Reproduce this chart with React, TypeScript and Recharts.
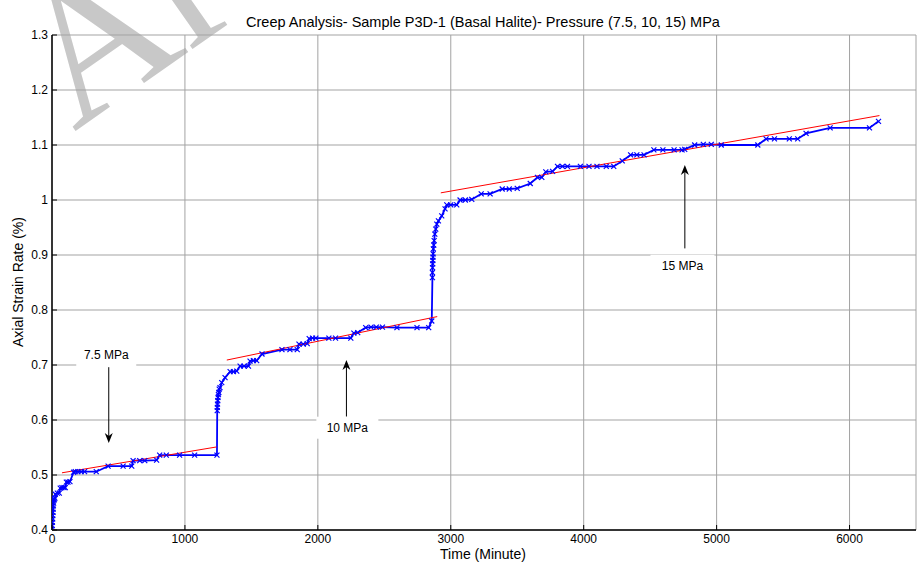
import React from 'react';
import {
  LineChart,
  Line,
  XAxis,
  YAxis,
  CartesianGrid,
  ReferenceLine,
  ReferenceDot,
} from 'recharts';

const timeMin = [
  0, 2, 3, 5, 6, 8, 9, 10, 12, 14, 18, 22,
  25, 40, 55, 62, 75, 90, 100, 108, 120, 135,
  163, 175, 195, 220, 245, 333, 422, 535, 600, 610, 660, 698, 787,
  810, 860, 960, 1073, 1241,
  1243, 1244, 1245, 1247, 1249, 1252, 1255, 1258, 1264, 1277, 1302,
  1340, 1365, 1390, 1415, 1445, 1478, 1490, 1515, 1540, 1580,
  1730, 1790, 1845, 1858, 1890, 1920, 1935, 1960, 1985, 2083, 2133, 2248,
  2271, 2300, 2360, 2400, 2440, 2486, 2595, 2746, 2834, 2857,
  2862, 2862, 2863, 2864, 2865, 2866, 2867, 2869, 2872, 2875, 2880, 2887, 2895,
  2907, 2932, 2957, 2970, 3000, 3045, 3070, 3110, 3158, 3229, 3296,
  3387, 3440, 3500, 3598, 3652, 3685, 3715, 3766, 3803, 3840, 3878,
  3975, 4040, 4100, 4170, 4226, 4290, 4353, 4400, 4454, 4528, 4596,
  4680, 4740, 4760, 4835, 4900, 4960, 5035, 5310, 5372, 5435, 5547,
  5610, 5673, 5854, 6150, 6218,
];
const strainPct = [
  0.401, 0.408, 0.414, 0.42, 0.426, 0.432, 0.438, 0.444, 0.449, 0.454, 0.456, 0.458,
  0.465, 0.467, 0.467, 0.476, 0.477, 0.477, 0.477, 0.487, 0.487, 0.488,
  0.505, 0.506, 0.506, 0.506, 0.506, 0.506, 0.516, 0.516, 0.516, 0.526, 0.526, 0.526, 0.527,
  0.536, 0.536, 0.536, 0.536, 0.536,
  0.617, 0.623, 0.629, 0.635, 0.641, 0.646, 0.65, 0.656, 0.659, 0.668, 0.677,
  0.688, 0.688, 0.689, 0.698, 0.698, 0.698, 0.707, 0.708, 0.708, 0.72,
  0.728, 0.728, 0.728, 0.738, 0.738, 0.739, 0.748, 0.749, 0.749, 0.749, 0.749, 0.749,
  0.758, 0.759, 0.768, 0.769, 0.769, 0.769, 0.768, 0.768, 0.768, 0.78,
  0.859, 0.868, 0.877, 0.884, 0.89, 0.896, 0.902, 0.911, 0.918, 0.926, 0.938, 0.947, 0.956,
  0.962, 0.971, 0.984, 0.991, 0.991, 0.991, 1.0, 1.0, 1.001, 1.011, 1.011,
  1.02, 1.02, 1.021, 1.03, 1.041, 1.041, 1.051, 1.052, 1.061, 1.061, 1.061,
  1.061, 1.061, 1.061, 1.061, 1.061, 1.071, 1.082, 1.082, 1.082, 1.091, 1.091,
  1.091, 1.091, 1.092, 1.1, 1.101, 1.101, 1.1, 1.1, 1.111, 1.111, 1.111,
  1.111, 1.121, 1.131, 1.131, 1.143,
];

// linear fits per pressure stage (start / end)
const fit75Time = [75, 1238];
const fit75Strain = [0.504, 0.551];
const fit10Time = [1315, 2898];
const fit10Strain = [0.709, 0.788];
const fit15Time = [2925, 6225];
const fit15Strain = [1.013, 1.1535];

const xTicks = [0, 1000, 2000, 3000, 4000, 5000, 6000];
const yTicks = [0.4, 0.5, 0.6, 0.7, 0.8, 0.9, 1.0, 1.1, 1.2, 1.3];

const stageLabels = ['7.5 MPa', '10 MPa', '15 MPa'];

const measured = timeMin.map((t, i) => ({ t, v: strainPct[i] }));
const fit75 = fit75Time.map((t, i) => ({ t, v: fit75Strain[i] }));
const fit10 = fit10Time.map((t, i) => ({ t, v: fit10Strain[i] }));
const fit15 = fit15Time.map((t, i) => ({ t, v: fit15Strain[i] }));

const FONT = '"Liberation Sans", Arial, Helvetica, sans-serif';

const XMark = (props: any) => {
  const { cx, cy } = props;
  if (cx == null || cy == null) return null;
  const s = 2.5;
  return (
    <path
      d={`M${cx - s},${cy - s}L${cx + s},${cy + s}M${cx - s},${cy + s}L${cx + s},${cy - s}`}
      stroke="#0000ff"
      strokeWidth={1.2}
      fill="none"
    />
  );
};

const BottomTick = (props: any) => {
  const { x, y, payload } = props;
  return (
    <g>
      <line x1={x} x2={x} y1={y - 4} y2={y - 9} stroke="#000" />
      <text x={x} y={y + 9} textAnchor="middle" fontSize={12} fontFamily={FONT} fill="#000">
        {payload.value}
      </text>
    </g>
  );
};

const LeftTick = (props: any) => {
  const { x, y, payload } = props;
  return (
    <g>
      <line x1={x + 4} x2={x + 9} y1={y} y2={y} stroke="#000" />
      <text x={x} y={y + 4} textAnchor="end" fontSize={12} fontFamily={FONT} fill="#000">
        {String(Math.round(payload.value * 10) / 10)}
      </text>
    </g>
  );
};

const TopTick = (props: any) => {
  const { x, y } = props;
  return <line x1={x} x2={x} y1={y} y2={y + 5} stroke="#000" />;
};

const RightTick = (props: any) => {
  const { x, y } = props;
  return <line x1={x} x2={x - 5} y1={y} y2={y} stroke="#000" />;
};

const Arrow = (p: any) => {
  const { x1, y1, x2, y2 } = p;
  const dx = x2 - x1;
  const dy = y2 - y1;
  const len = Math.sqrt(dx * dx + dy * dy) || 1;
  const ux = dx / len;
  const uy = dy / len;
  const hl = 10;
  const hw = 4;
  const bx = x2 - ux * hl;
  const by = y2 - uy * hl;
  const nx = x2 - ux * hl * 0.7;
  const ny = y2 - uy * hl * 0.7;
  return (
    <g>
      <line x1={x1} y1={y1} x2={nx} y2={ny} stroke="#000" strokeWidth={1} />
      <path
        d={`M${x2},${y2}L${bx - uy * hw},${by + ux * hw}L${nx},${ny}L${bx + uy * hw},${by - ux * hw}Z`}
        fill="#000"
      />
    </g>
  );
};

const boxLabel = (text: string, w: number) => (p: any) => (
  <g>
    <rect x={p.cx - w / 2} y={p.cy - 11} width={w} height={22} fill="#fff" />
    <text x={p.cx} y={p.cy + 4} textAnchor="middle" fontSize={12} fontFamily={FONT} fill="#000">
      {text}
    </text>
  </g>
);

export default function App() {
  return (
    <div style={{ position: 'absolute', left: 0, top: 0, width: 924, height: 563, background: '#fff', overflow: 'hidden' }}>
      <svg width={924} height={563} style={{ position: 'absolute', left: 0, top: 0 }}>
        <text
          transform="translate(74,132) rotate(-35)"
          fontSize={195}
          fontFamily='"Liberation Serif", "DejaVu Serif", serif'
          fill="#c8c8c8"
        >
          Archive of SID
        </text>
      </svg>
      <div style={{ position: 'absolute', left: 0, top: 0 }}>
        <LineChart width={924} height={563} margin={{ top: 35, right: 8, bottom: 0, left: 0 }}>
          <CartesianGrid stroke="#a3a3a3" />
          <XAxis
            dataKey="t"
            type="number"
            domain={[0, 6500]}
            ticks={xTicks}
            allowDataOverflow
            height={33}
            tickSize={0}
            tickMargin={4}
            tickLine={false}
            axisLine={{ stroke: '#000', strokeWidth: 1.5 }}
            tick={<BottomTick />}
          />
          <XAxis
            xAxisId="top"
            orientation="top"
            type="number"
            domain={[0, 6500]}
            ticks={xTicks}
            allowDataOverflow
            height={0}
            tickSize={0}
            tickMargin={0}
            tickLine={false}
            axisLine={{ stroke: '#000', strokeWidth: 1.5 }}
            tick={<TopTick />}
          />
          <YAxis
            type="number"
            domain={[0.4, 1.3]}
            ticks={yTicks}
            allowDataOverflow
            width={52}
            tickSize={0}
            tickMargin={4}
            tickLine={false}
            axisLine={{ stroke: '#000', strokeWidth: 1.5 }}
            tick={<LeftTick />}
          />
          <YAxis
            yAxisId="right"
            orientation="right"
            type="number"
            domain={[0.4, 1.3]}
            ticks={yTicks}
            allowDataOverflow
            width={0}
            tickSize={0}
            tickMargin={0}
            tickLine={false}
            axisLine={{ stroke: '#000', strokeWidth: 1.5 }}
            tick={<RightTick />}
          />
          <ReferenceDot x={408} y={0.718} r={0} shape={boxLabel(stageLabels[0], 60)} />
          <ReferenceDot x={2222} y={0.586} r={0} shape={boxLabel(stageLabels[1], 62)} />
          <ReferenceDot x={4743} y={0.8805} r={0} shape={boxLabel(stageLabels[2], 64)} />
          <ReferenceLine segment={[{ x: 427, y: 0.696 }, { x: 427, y: 0.558 }]} shape={Arrow} />
          <ReferenceLine segment={[{ x: 2215, y: 0.606 }, { x: 2215, y: 0.709 }]} shape={Arrow} />
          <ReferenceLine segment={[{ x: 4761, y: 0.912 }, { x: 4761, y: 1.0636 }]} shape={Arrow} />
          <Line
            data={measured}
            dataKey="v"
            type="linear"
            stroke="#0000ff"
            strokeWidth={1.8}
            dot={(p: any) => <XMark key={`m-${p.index}`} {...p} />}
            isAnimationActive={false}
          />
          <Line data={fit75} dataKey="v" type="linear" stroke="#ff0000" strokeWidth={1} dot={false} isAnimationActive={false} />
          <Line data={fit10} dataKey="v" type="linear" stroke="#ff0000" strokeWidth={1} dot={false} isAnimationActive={false} />
          <Line data={fit15} dataKey="v" type="linear" stroke="#ff0000" strokeWidth={1} dot={false} isAnimationActive={false} />
        </LineChart>
      </div>
      <svg width={924} height={563} style={{ position: 'absolute', left: 0, top: 0, pointerEvents: 'none' }}>
        <text x={483} y={26.5} textAnchor="middle" fontSize={14.5} fontFamily={FONT} fill="#000">
          Creep Analysis- Sample P3D-1 (Basal Halite)- Pressure (7.5, 10, 15) MPa
        </text>
        <text x={483} y={558.5} textAnchor="middle" fontSize={14} fontFamily={FONT} fill="#000">
          Time (Minute)
        </text>
        <text
          x={23}
          y={282}
          transform="rotate(-90, 23, 282)"
          textAnchor="middle"
          fontSize={14}
          fontFamily={FONT}
          fill="#000"
        >
          Axial Strain Rate (%)
        </text>
      </svg>
    </div>
  );
}
